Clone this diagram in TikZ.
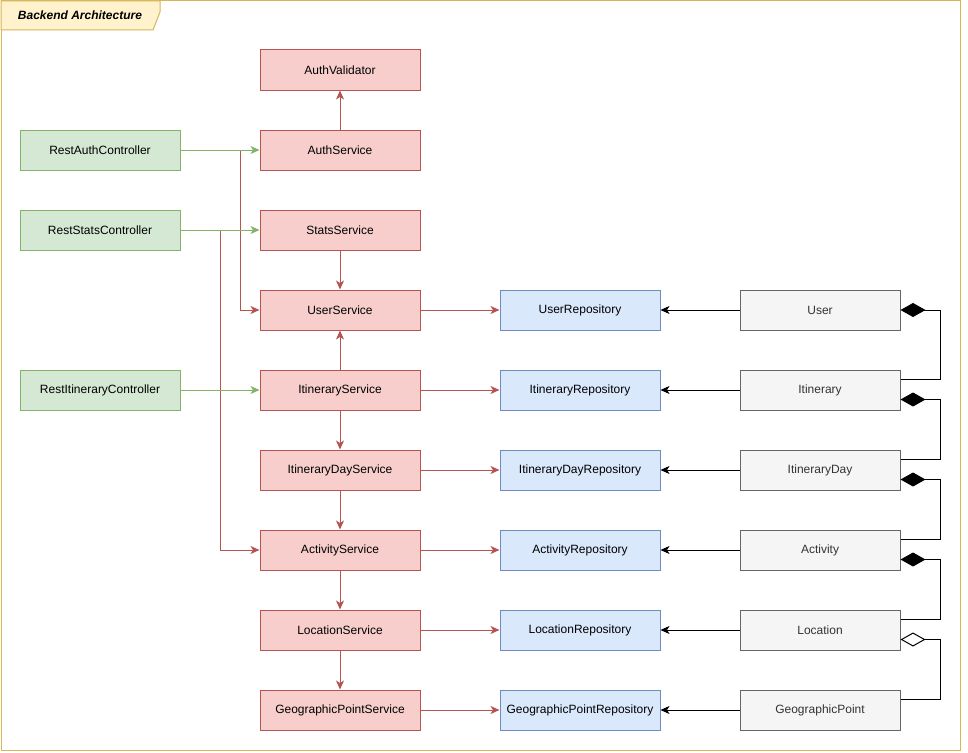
\documentclass[tikz,border=0pt]{standalone}
\usepackage{fontspec}
\setmainfont{Liberation Sans}
\usetikzlibrary{arrows.meta,calc}
\definecolor{redfill}{HTML}{F8CECC}
\definecolor{redline}{HTML}{B85450}
\definecolor{greenfill}{HTML}{D5E8D4}
\definecolor{greenline}{HTML}{82B366}
\definecolor{bluefill}{HTML}{DAE8FC}
\definecolor{blueline}{HTML}{6C8EBF}
\definecolor{greyfill}{HTML}{F5F5F5}
\definecolor{greyline}{HTML}{666666}
\definecolor{greytext}{HTML}{333333}
\definecolor{framefill}{HTML}{FFF2CC}
\definecolor{frameline}{HTML}{D6B656}
\tikzset{
  box/.style={rectangle, minimum width=160pt, minimum height=40pt, inner sep=0pt,
    line width=1pt, font=\fontsize{12}{14}\selectfont},
  svcbox/.style={box, draw=redline, fill=redfill},
  ctlbox/.style={box, draw=greenline, fill=greenfill},
  repobox/.style={box, draw=blueline, fill=bluefill},
  entbox/.style={box, draw=greyline, fill=greyfill, text=greytext},
  redarr/.style={draw=redline, line width=1pt, -{Stealth[length=9pt,width=8pt,inset=2.5pt]}},
  greenarr/.style={draw=greenline, line width=1pt, -{Stealth[length=9pt,width=8pt,inset=2.5pt]}},
  blackarr/.style={draw=black, line width=1pt, -{Stealth[length=9pt,width=8pt,inset=2.5pt]}},
  compos/.style={draw=black, line width=1pt, -{Diamond[length=25pt,width=14pt,fill=black]}},
  aggreg/.style={draw=black, line width=1pt, -{Diamond[length=25pt,width=14pt,open,fill=white]}},
}
\begin{document}
\begin{tikzpicture}[x=1pt,y=-1pt]
\useasboundingbox (0,0) rectangle (968,752);
% frame
\draw[frameline, fill=white, line width=1pt] (1,1) rectangle (960,750);
\draw[frameline, fill=framefill, line width=1pt] (1,1) -- (160,1) -- (160,12) -- (153,30) -- (1,30) -- cycle;
\node[font=\fontsize{12}{14}\selectfont\bfseries\itshape] (title) at (80,15) {Backend Architecture};

% controllers
\node[ctlbox] (rac) at (100,150) {RestAuthController};
\node[ctlbox] (rsc) at (100,230) {RestStatsController};
\node[ctlbox] (ric) at (100,390) {RestItineraryController};

% services
\node[svcbox] (av) at (340,70) {AuthValidator};
\node[svcbox] (as) at (340,150) {AuthService};
\node[svcbox] (ss) at (340,230) {StatsService};
\node[svcbox] (us) at (340,310) {UserService};
\node[svcbox] (is) at (340,390) {ItineraryService};
\node[svcbox] (ids) at (340,470) {ItineraryDayService};
\node[svcbox] (acs) at (340,550) {ActivityService};
\node[svcbox] (ls) at (340,630) {LocationService};
\node[svcbox] (gps) at (340,710) {GeographicPointService};

% repositories
\node[repobox] (ur) at (580,310) {UserRepository};
\node[repobox] (ir) at (580,390) {ItineraryRepository};
\node[repobox] (idr) at (580,470) {ItineraryDayRepository};
\node[repobox] (ar) at (580,550) {ActivityRepository};
\node[repobox] (lr) at (580,630) {LocationRepository};
\node[repobox] (gpr) at (580,710) {GeographicPointRepository};

% entities
\node[entbox] (eu) at (820,310) {User};
\node[entbox] (ei) at (820,390) {Itinerary};
\node[entbox] (eid) at (820,470) {ItineraryDay};
\node[entbox] (ea) at (820,550) {Activity};
\node[entbox] (el) at (820,630) {Location};
\node[entbox] (eg) at (820,710) {GeographicPoint};

% controller to service (red long)
\draw[redarr] (rac.east) -- ++(60,0) |- (us.west);
\draw[redarr] (rsc.east) -- ++(40,0) |- (acs.west);
% controller to service (green)
\draw[greenarr] (rac) -- (as);
\draw[greenarr] (rsc) -- (ss);
\draw[greenarr] (ric) -- (is);

% service internal
\draw[redarr] (as) -- (av);
\draw[redarr] (ss) -- (us);
\draw[redarr] (is) -- (us);
\draw[redarr] (is) -- (ids);
\draw[redarr] (ids) -- (acs);
\draw[redarr] (acs) -- (ls);
\draw[redarr] (ls) -- (gps);

% service to repo
\draw[redarr] (us) -- (ur);
\draw[redarr] (is) -- (ir);
\draw[redarr] (ids) -- (idr);
\draw[redarr] (acs) -- (ar);
\draw[redarr] (ls) -- (lr);
\draw[redarr] (gps) -- (gpr);

% entity to repo
\draw[blackarr] (eu) -- (ur);
\draw[blackarr] (ei) -- (ir);
\draw[blackarr] (eid) -- (idr);
\draw[blackarr] (ea) -- (ar);
\draw[blackarr] (el) -- (lr);
\draw[blackarr] (eg) -- (gpr);

% compositions
\draw[compos] ($(ei.north east)+(0,10)$) -- ++(40,0) |- (eu.east);
\draw[compos] ($(eid.north east)+(0,10)$) -- ++(40,0) |- ($(ei.north east)+(0,30)$);
\draw[compos] ($(ea.north east)+(0,10)$) -- ++(40,0) |- ($(eid.north east)+(0,30)$);
\draw[compos] ($(el.north east)+(0,10)$) -- ++(40,0) |- ($(ea.north east)+(0,30)$);
\draw[aggreg] ($(eg.north east)+(0,10)$) -- ++(40,0) |- ($(el.north east)+(0,30)$);
\end{tikzpicture}
\end{document}
